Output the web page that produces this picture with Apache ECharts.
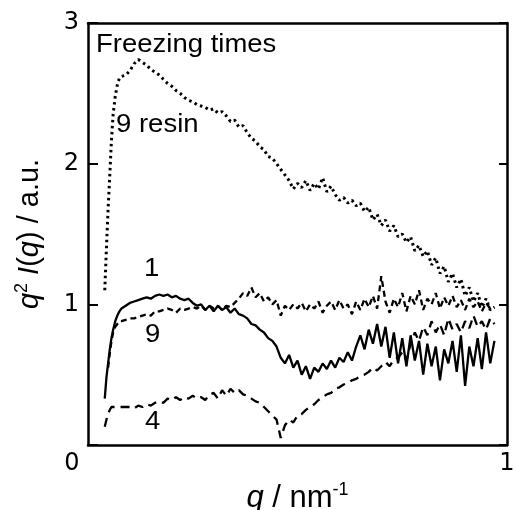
<!DOCTYPE html>
<html><head><meta charset="utf-8">
<script src="https://cdn.jsdelivr.net/npm/echarts@6/dist/echarts.min.js"></script>
<style>html,body{margin:0;padding:0;background:#fff}#c{width:515px;height:510px}</style>
</head><body><div id="c"></div>
<script>
var q = [0.040,0.044,0.048,0.052,0.056,0.060,0.065,0.070,0.075,0.080,
0.09,0.10,0.11,0.12,0.13,0.14,0.15,0.16,0.17,0.18,0.19,0.20,0.21,0.22,0.23,0.24,0.25,0.26,0.27,0.28,0.29,
0.30,0.31,0.32,0.33,0.34,0.35,0.36,0.37,0.38,0.39,0.40,0.41,0.42,0.43,0.44,0.45,0.46,0.47,0.48,0.49,
0.50,0.51,0.52,0.53,0.54,0.55,0.56,0.57,0.58,0.59,0.60,0.61,0.62,0.63,0.64,0.65,0.66,0.67,0.68,0.69,
0.70,0.71,0.72,0.73,0.74,0.75,0.76,0.77,0.78,0.79,0.80,0.81,0.82,0.83,0.84,0.85,0.86,0.87,0.88,0.89,
0.90,0.91,0.92,0.93,0.94,0.95,0.96,0.97];

var resin9 = [1.10,1.40,1.68,1.92,2.17,2.35,2.48,2.56,2.61,2.62,
2.63,2.66,2.71,2.74,2.72,2.70,2.67,2.65,2.63,2.60,2.57,2.55,2.52,2.50,2.47,2.45,2.44,2.42,2.41,2.40,2.38,
2.39,2.36,2.37,2.34,2.30,2.31,2.26,2.27,2.22,2.18,2.16,2.12,2.10,2.05,2.04,2.00,1.96,1.92,1.88,1.82,
1.86,1.83,1.88,1.81,1.86,1.82,1.90,1.80,1.84,1.78,1.74,1.76,1.72,1.74,1.70,1.72,1.66,1.69,1.60,1.64,
1.56,1.60,1.52,1.56,1.48,1.50,1.44,1.48,1.38,1.42,1.34,1.38,1.28,1.33,1.22,1.27,1.16,1.22,1.12,1.18,
1.06,1.12,1.02,1.08,0.98,1.04,0.96,0.98];

var times1 = [0.33,0.48,0.58,0.68,0.76,0.82,0.88,0.92,0.95,0.97,
0.99,1.01,1.02,1.03,1.04,1.05,1.04,1.06,1.07,1.06,1.07,1.05,1.06,1.04,1.03,1.04,1.01,0.99,1.00,0.96,0.99,
0.95,0.99,0.96,0.98,0.94,0.97,0.93,0.92,0.90,0.86,0.85,0.82,0.80,0.76,0.74,0.70,0.62,0.58,0.64,0.55,
0.60,0.50,0.56,0.47,0.55,0.52,0.58,0.54,0.60,0.55,0.62,0.59,0.66,0.60,0.70,0.78,0.68,0.82,0.72,0.86,
0.70,0.84,0.62,0.80,0.58,0.76,0.56,0.78,0.60,0.74,0.50,0.72,0.56,0.70,0.46,0.68,0.58,0.74,0.52,0.78,
0.42,0.70,0.56,0.76,0.54,0.80,0.58,0.74];

var times9 = [null,null,0.55,0.65,0.74,0.80,0.84,0.86,0.88,0.88,
0.89,0.90,0.90,0.91,0.92,0.93,0.92,0.95,0.95,0.96,0.97,0.96,0.94,0.97,0.96,0.97,0.98,0.97,0.99,0.96,0.99,
0.97,0.99,0.96,0.99,0.98,1.01,1.04,1.08,1.06,1.12,1.05,1.08,1.02,1.05,1.00,1.03,0.92,0.99,0.96,1.00,
0.97,1.01,0.95,1.00,0.97,1.02,0.94,0.99,1.02,0.96,1.03,0.97,1.00,0.93,1.02,0.96,1.04,0.98,1.06,0.97,
1.20,1.02,0.94,1.04,0.98,1.08,0.95,1.06,1.00,1.10,0.96,1.04,1.00,1.08,0.97,1.05,0.99,1.06,0.98,1.03,
0.96,1.04,0.98,1.02,0.95,1.01,0.97,0.98];

var times4 = [0.13,0.18,0.22,0.25,0.27,0.27,0.27,0.27,0.27,0.27,
0.27,0.27,0.26,0.28,0.27,0.29,0.28,0.30,0.31,0.30,0.33,0.32,0.34,0.32,0.34,0.33,0.35,0.33,0.34,0.32,0.36,
0.37,0.33,0.39,0.35,0.40,0.37,0.39,0.36,0.35,0.33,0.31,0.30,0.27,0.24,0.21,0.18,0.05,0.14,0.18,0.16,
0.21,0.22,0.25,0.27,0.29,0.32,0.34,0.36,0.37,0.40,0.41,0.43,0.44,0.46,0.47,0.49,0.50,0.52,0.55,0.53,
0.56,0.59,0.56,0.61,0.62,0.66,0.60,0.72,0.80,0.74,0.84,0.78,0.88,0.80,0.86,0.78,0.90,0.82,0.86,0.80,
0.88,0.83,0.92,0.84,0.88,0.82,0.90,0.86];

var xTicks = ['0','1'];
var yTicks = ['1','2','3'];

function pairs(v){ return q.map(function(x,i){ return [x, v[i]]; }); }

var FONT = 'Liberation Sans, Arial, sans-serif';
var TFONT = 'DejaVu Sans, sans-serif';
var chart = echarts.init(document.getElementById('c'), null, {renderer:'canvas'});
var lineBase = {type:'line', showSymbol:false, symbol:'none', animation:false, connectNulls:false};
function note(txt, l, t){
  return {type:'text', left:l, top:t, scaleX:1.1, style:{text:txt, fontFamily:FONT, fontSize:25, fill:'#000'}};
}
chart.setOption({
  animation:false,
  backgroundColor:'#fff',
  grid:{left:88, right:8, top:23, bottom:65, containLabel:false, outerBoundsMode:'none'},
  xAxis:[{
    type:'value', min:0, max:1, interval:1,
    name:'{i|q} / nm{sup|-1}', nameLocation:'middle', nameGap:27,
    nameTextStyle:{fontFamily:FONT, fontSize:31, color:'#000',
      rich:{i:{fontStyle:'italic', fontSize:31, fontFamily:FONT, color:'#000'},
            sup:{fontSize:18, verticalAlign:'bottom', padding:[0,0,17,0], fontFamily:FONT, color:'#000'}}},
    axisLine:{onZero:false, lineStyle:{color:'#000', width:2.5}},
    axisTick:{show:false}, splitLine:{show:false},
    axisLabel:{margin:7, fontFamily:TFONT, fontSize:24, color:'#000',
      formatter:function(v){ return v===0 ? '{l|'+xTicks[0]+'}' : xTicks[1]; },
      rich:{l:{padding:[0,32,0,0], fontSize:24, fontFamily:TFONT, color:'#000'}}}
  },{
    type:'value', min:0, max:1, position:'top',
    axisLine:{onZero:false, lineStyle:{color:'#000', width:2.5}}, axisTick:{show:false}, axisLabel:{show:false}, splitLine:{show:false}
  }],
  yAxis:[{
    type:'value', min:0, max:3, interval:1,
    name:'{i|q}{sup|2} {i|I}({i|q}) / a.u.', nameLocation:'middle', nameGap:42, nameRotate:90,
    nameTextStyle:{fontFamily:FONT, fontSize:29, color:'#000',
      rich:{i:{fontStyle:'italic', fontSize:29, fontFamily:FONT, color:'#000'},
            sup:{fontSize:18, verticalAlign:'bottom', padding:[0,0,15,0], fontFamily:FONT, color:'#000'}}},
    axisLine:{show:true, onZero:false, lineStyle:{color:'#000', width:2.5}},
    axisTick:{show:true, inside:true, length:10, lineStyle:{color:'#000', width:2}},
    splitLine:{show:false},
    axisLabel:{margin:9, fontFamily:TFONT, fontSize:24, color:'#000',
      formatter:function(v){ return v===0 ? '' : yTicks[v-1]; }}
  },{
    type:'value', min:0, max:3, interval:1, position:'right',
    axisLine:{show:true, onZero:false, lineStyle:{color:'#000', width:2.5}},
    axisTick:{show:true, inside:true, length:8, lineStyle:{color:'#000', width:2}},
    axisLabel:{show:false}, splitLine:{show:false}
  }],
  series:[
    Object.assign({}, lineBase, {name:'9 resin', data:pairs(resin9), lineStyle:{color:'#000', width:3, type:[2.5,3.5]}}),
    Object.assign({}, lineBase, {name:'1', data:pairs(times1), lineStyle:{color:'#000', width:2.3}}),
    Object.assign({}, lineBase, {name:'9', data:pairs(times9), lineStyle:{color:'#000', width:2.3, type:[6,4]}}),
    Object.assign({}, lineBase, {name:'4', data:pairs(times4), lineStyle:{color:'#000', width:2.3, type:[9,6]}})
  ],
  graphic:[
    note('Freezing times', 96, 33),
    note('9 resin', 116, 113),
    note('1', 144, 257),
    note('9', 145, 323),
    note('4', 145, 410)
  ]
});
</script></body></html>
